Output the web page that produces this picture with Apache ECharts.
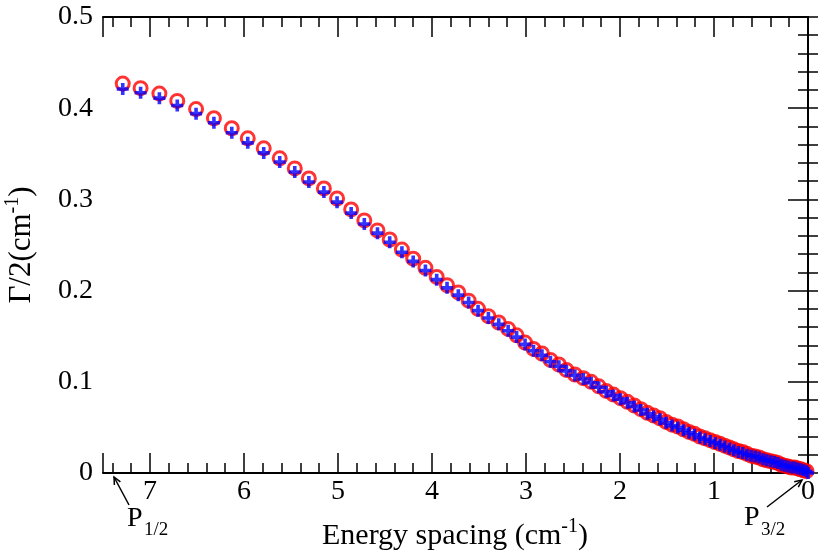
<!DOCTYPE html>
<html>
<head>
<meta charset="utf-8">
<script src="https://cdn.jsdelivr.net/npm/echarts@6/dist/echarts.min.js"></script>
<style>
  html, body { margin: 0; padding: 0; background: #fff; }
  #chart { width: 818px; height: 551px; }
</style>
</head>
<body>
<div id="chart"></div>
<script>
// energy spacing (cm-1) for every computed point
const spacing = [
  7.29, 7.10, 6.90, 6.71, 6.51, 6.32, 6.13, 5.96, 5.79, 5.62, 5.46, 5.31, 5.15, 5.01,
  4.86, 4.72, 4.58, 4.45, 4.32, 4.20, 4.07, 3.95, 3.84, 3.72, 3.61, 3.51, 3.40, 3.29,
  3.19, 3.10, 3.01, 2.92, 2.83, 2.74, 2.65, 2.57, 2.48, 2.39, 2.307, 2.226, 2.147, 2.070,
  1.995, 1.921, 1.848, 1.778, 1.709, 1.641, 1.575, 1.510, 1.447, 1.385, 1.325, 1.266,
  1.208, 1.151, 1.096, 1.042, 0.989, 0.937, 0.887, 0.837, 0.789, 0.741, 0.695, 0.650,
  0.605, 0.562, 0.520, 0.478, 0.438, 0.398, 0.359, 0.321, 0.284, 0.248, 0.213, 0.178,
  0.144, 0.111, 0.079, 0.047, 0.016
];
// red circles
const gammaCircle = [
  0.427, 0.422, 0.416, 0.408, 0.399, 0.389, 0.378, 0.367, 0.356, 0.345, 0.334, 0.323, 0.312, 0.301,
  0.289, 0.277, 0.266, 0.256, 0.245, 0.235, 0.225, 0.215, 0.206, 0.198, 0.189, 0.180, 0.172, 0.165,
  0.158, 0.151, 0.143, 0.136, 0.131, 0.124, 0.119, 0.113, 0.108, 0.104, 0.100, 0.095, 0.090, 0.086,
  0.082, 0.078, 0.074, 0.070, 0.066, 0.063, 0.060, 0.056, 0.053, 0.051, 0.048, 0.045,
  0.043, 0.040, 0.038, 0.036, 0.034, 0.032, 0.030, 0.028, 0.026, 0.024, 0.023, 0.021,
  0.019, 0.018, 0.017, 0.015, 0.014, 0.013, 0.012, 0.011, 0.009, 0.008, 0.007, 0.006,
  0.006, 0.005, 0.004, 0.003, 0.002
];
// blue crosses (same spacings plus the end point at 0)
const spacingPlus = spacing.concat([0]);
const gammaPlus = [
  0.421, 0.417, 0.411, 0.403, 0.394, 0.384, 0.373, 0.362, 0.351, 0.341, 0.330, 0.319, 0.308, 0.297,
  0.285, 0.273, 0.263, 0.253, 0.242, 0.232, 0.222, 0.212, 0.203, 0.195, 0.187, 0.178, 0.170, 0.163,
  0.156, 0.149, 0.141, 0.134, 0.129, 0.122, 0.117, 0.112, 0.107, 0.103, 0.099, 0.094, 0.089, 0.085,
  0.081, 0.077, 0.073, 0.069, 0.065, 0.062, 0.059, 0.055, 0.052, 0.050, 0.047, 0.044,
  0.042, 0.039, 0.037, 0.035, 0.033, 0.031, 0.029, 0.027, 0.025, 0.023, 0.022, 0.020,
  0.019, 0.018, 0.017, 0.015, 0.014, 0.013, 0.012, 0.011, 0.009, 0.008, 0.007, 0.006,
  0.006, 0.005, 0.004, 0.003, 0.002, 0.000
];

const FONT = "'Liberation Serif', 'DejaVu Serif', serif";
const black = '#000';

function xAxisCfg(pos, interval, tickLen, labels) {
  return {
    type: 'value', min: 0, max: 7.5, interval: interval, inverse: true, position: pos,
    axisLine: { show: tickLen === 20, lineStyle: { color: black, width: 2 } },
    axisTick: { inside: true, length: tickLen, lineStyle: { color: black, width: 1.5 } },
    axisLabel: {
      show: labels, margin: 5, color: black, fontFamily: FONT, fontSize: 28,
      formatter: v => (Number.isInteger(v) ? String(v) : '')
    },
    splitLine: { show: false }
  };
}
function yAxisCfg(pos, labels) {
  return {
    type: 'value', min: 0, max: 0.5, interval: 0.1, position: pos,
    axisLine: { show: true, lineStyle: { color: black, width: 2 } },
    axisTick: { inside: true, length: 20, lineStyle: { color: black, width: 1.5 } },
    minorTick: { show: true, splitNumber: 5, length: 10, lineStyle: { color: black, width: 1.5 } },
    axisLabel: {
      show: labels, margin: 10, color: black, fontFamily: FONT, fontSize: 28,
      formatter: v => (v === 0 ? '0' : v.toFixed(1))
    },
    splitLine: { show: false }
  };
}

const chart = echarts.init(document.getElementById('chart'), null, { renderer: 'canvas' });
const option = {
  animation: false,
  backgroundColor: '#fff',
  grid: { left: 103, right: 6, top: 17, bottom: 78 },
  xAxis: [
    xAxisCfg('bottom', 1, 20, true),
    xAxisCfg('bottom', 0.2, 10, false),
    xAxisCfg('top', 1, 20, false),
    xAxisCfg('top', 0.2, 10, false)
  ],
  yAxis: [yAxisCfg('left', true), yAxisCfg('right', false)],
  series: [
    {
      type: 'scatter', xAxisIndex: 0, yAxisIndex: 0,
      symbol: 'circle', symbolSize: 13,
      itemStyle: { color: 'rgba(0,0,0,0)', borderColor: '#ff0000', borderWidth: 3 },
      data: spacing.map((x, i) => [x, gammaCircle[i]])
    },
    {
      type: 'scatter', xAxisIndex: 0, yAxisIndex: 0,
      symbol: 'path://M3.5,0H6.5V3.5H10V6.5H6.5V10H3.5V6.5H0V3.5H3.5Z', symbolSize: 12,
      itemStyle: { color: '#0000ff' },
      data: spacingPlus.map((x, i) => [x, gammaPlus[i]])
    }
  ],
  graphic: [
    // axis titles
    {
      type: 'text', left: 322, top: 517,
      style: {
        text: '{a|Energy spacing (cm}{s|-1}{a|)}', fill: black,
        rich: {
          a: { fontFamily: FONT, fontSize: 30, lineHeight: 34, verticalAlign: 'bottom' },
          s: { fontFamily: FONT, fontSize: 20, lineHeight: 34, verticalAlign: 'top' }
        }
      }
    },
    {
      type: 'text', x: 20, y: 245, rotation: Math.PI / 2,
      style: {
        text: '{a|\u0393/2(cm}{s|-1}{a|)}', fill: black, align: 'center', verticalAlign: 'middle',
        rich: {
          a: { fontFamily: FONT, fontSize: 31, lineHeight: 34, verticalAlign: 'bottom' },
          s: { fontFamily: FONT, fontSize: 20, lineHeight: 34, verticalAlign: 'top' }
        }
      }
    },
    // P1/2 label and arrow
    { type: 'text', x: 127, y: 505, style: { text: 'P', fill: black, font: "28px 'Liberation Serif'" } },
    { type: 'text', x: 144, y: 521, style: { text: '1/2', fill: black, font: "19px 'Liberation Serif'" } },
    { type: 'polyline', shape: { points: [[129, 505], [114, 477]] }, style: { stroke: black, lineWidth: 1.5 } },
    { type: 'polyline', shape: { points: [[114.4, 485], [114, 477], [120.4, 481.8]] }, style: { stroke: black, lineWidth: 1.5, fill: null } },
    // P3/2 label and arrow
    { type: 'text', x: 744, y: 504, style: { text: 'P', fill: black, font: "28px 'Liberation Serif'" } },
    { type: 'text', x: 761, y: 521, style: { text: '3/2', fill: black, font: "19px 'Liberation Serif'" } },
    { type: 'polyline', shape: { points: [[767, 507], [802, 480]] }, style: { stroke: black, lineWidth: 1.5 } },
    { type: 'polyline', shape: { points: [[794.2, 481.7], [802, 480], [798.3, 487.1]] }, style: { stroke: black, lineWidth: 1.5, fill: null } }
  ]
};
chart.setOption(option);
</script>
</body>
</html>
